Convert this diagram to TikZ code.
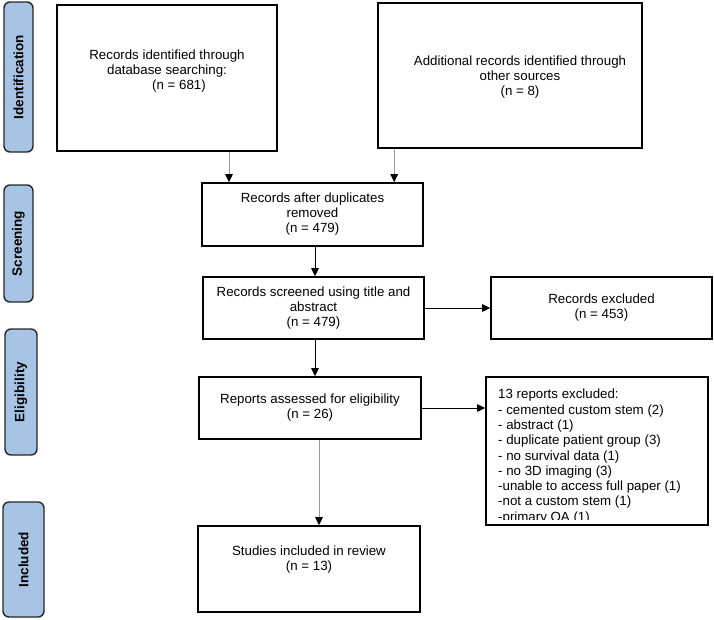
\documentclass[tikz,border=0pt]{standalone}
\usepackage{fontspec}
\setmainfont{Liberation Sans}
\usetikzlibrary{arrows.meta,calc}
\definecolor{sidefill}{RGB}{168,196,229}
\begin{document}
\begin{tikzpicture}[x=1pt,y=-1pt,
  every node/.style={font=\fontsize{13.3}{15}\selectfont},
  box/.style={draw=black, line width=1.6pt, inner sep=0pt, align=center},
  txt/.style={inner sep=0pt, align=center},
  side/.style={draw=black!85, fill=sidefill, line width=1.4pt, rounded corners=6pt,
    rotate=90, inner sep=0pt, font=\bfseries\fontsize{13.5}{15}\selectfont},
  arr/.style={line width=0.9pt, -{Triangle[length=8pt,width=7.5pt]}},
  garr/.style={line width=0.9pt, draw=black!40, -{Triangle[length=8pt,width=7.5pt,color=black]}}
]
\useasboundingbox (0,0) rectangle (714,619);

% side labels
\node[side, minimum width=150pt, minimum height=29pt] (sid) at (18.5,77) {Identification};
\node[side, minimum width=117pt, minimum height=29pt] (sscr) at (18.5,243.5) {Screening};
\node[side, minimum width=126pt, minimum height=32pt] (selig) at (21,392) {Eligibility};
\node[side, minimum width=115pt, minimum height=41pt] (sinc) at (23.5,559.5) {Included};

% boxes
\node[box, minimum width=220pt, minimum height=146pt] (box1) at (167,78) {};
\node[txt] (box1t) at (167,71) {Records identified through\\database searching:\\\hspace*{24pt}(n = 681)};

\node[box, minimum width=264pt, minimum height=145pt] (box2) at (510,75.5) {};
\node[txt] (box2t) at (520,77.5) {Additional records identified through\\other sources\\(n = 8)};

\node[box, minimum width=221pt, minimum height=63pt] (dup) at (312.5,214.5) {Records after duplicates\\removed\\(n = 479)};
\node[box, minimum width=221pt, minimum height=62pt] (scr) at (313.5,308) {Records screened using title and\\abstract\\(n = 479)};
\node[box, minimum width=221pt, minimum height=62pt] (excl) at (601.5,308) {Records excluded\\(n = 453)};
\node[box, minimum width=222pt, minimum height=62pt] (rep) at (310,408) {Reports assessed for eligibility\\(n = 26)};

\node[box, minimum width=222pt, minimum height=86pt] (stud) at (309,569) {};
\node[txt] (studt) at (309,560) {Studies included in review\\(n = 13)};

\begin{scope}
  \clip (487,378) rectangle (707,519);
  \node[anchor=north west, inner sep=0pt, align=left, font=\fontsize{13.3}{15.3}\selectfont] (listt) at (498,389)
    {13 reports excluded:\\- cemented custom stem (2)\\- abstract (1)\\- duplicate patient group (3)\\- no survival data (1)\\- no 3D imaging (3)\\-unable to access full paper (1)\\-not a custom stem (1)\\-primary OA (1)};
\end{scope}
\node[box, minimum width=222pt, minimum height=148pt] (list) at (597,451) {};

% connectors
\draw[garr] ([xshift=62pt]box1.south) -- ([xshift=62pt]box1.south |- dup.north);
\draw[garr] ([xshift=17pt]box2.south west) -- ([xshift=17pt]box2.south west |- dup.north);
\draw[arr] ([xshift=2.5pt]dup.south) -- ([xshift=2.5pt]dup.south |- scr.north);
\draw[arr] (scr.east) -- (excl.west);
\draw[arr] ([xshift=1.5pt]scr.south) -- ([xshift=1.5pt]scr.south |- rep.north);
\draw[arr] (rep.east) -- (rep.east -| list.west);
\draw[garr] ([xshift=9pt]rep.south) -- ([xshift=9pt]rep.south |- stud.north);
\end{tikzpicture}
\end{document}
